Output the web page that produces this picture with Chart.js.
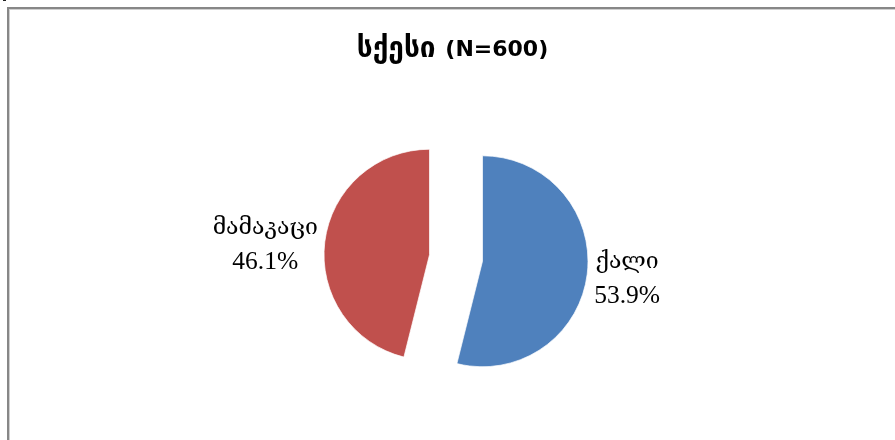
<!DOCTYPE html>
<html>
<head>
<meta charset="utf-8">
<script src="https://cdn.jsdelivr.net/npm/chart.js@4"></script>
<style>
  html, body { margin: 0; padding: 0; background: #fff; overflow: hidden; width: 895px; height: 440px; }
  #frame { position: absolute; left: 7px; top: 7px; width: 1000px; height: 1000px;
           border-left: 2px solid #878787; border-top: 2px solid #878787;
           box-shadow: inset 1px 1px 0 #cfcfcf; }
  #mark { position: absolute; left: 3px; top: 0; width: 3px; height: 1px; background: #222; }
  #wrap { position: absolute; left: 0; top: 0; width: 895px; height: 440px; }
</style>
</head>
<body>
<div id="mark"></div>
<div id="frame"></div>
<div id="wrap"><canvas id="c" width="895" height="440"></canvas></div>
<script>
// ---- data ----
const titleWord = 'სქესი';
const titleNote = '(N=600)';
const categories = ['ქალი', 'მამაკაცი'];
const percentages = [53.9, 46.1];
const sliceColors = ['#4F81BD', '#C0504D'];

// ---- styling ----
const pieRadius = 105.5;
const explodeDist = 26.7;
const titleCenterX = 452.5, titleCenterY = 50;
const titleWordFont = 'bold 28px "DejaVu Sans", sans-serif';
const titleNoteFont = 'bold 22px "DejaVu Sans", sans-serif';
const catFont = '23px "Liberation Serif", "DejaVu Serif", serif';
const pctFont = '25.5px "Liberation Serif", "DejaVu Serif", serif';
const labelLineHeight = 34;

const explodeAndLabel = {
  id: 'explodeAndLabel',
  afterDatasetsUpdate(chart) {
    const meta = chart.getDatasetMeta(0);
    meta.data.forEach(arc => {
      const mid = (arc.startAngle + arc.endAngle) / 2;
      arc.x += Math.cos(mid) * explodeDist;
      arc.y += Math.sin(mid) * explodeDist;
    });
  },
  afterDraw(chart) {
    const ctx = chart.ctx;
    ctx.save();
    ctx.fillStyle = '#000';
    ctx.textBaseline = 'middle';
    // title (two runs)
    ctx.font = titleWordFont;
    const w1 = ctx.measureText(titleWord + ' ').width;
    ctx.font = titleNoteFont;
    const w2 = ctx.measureText(titleNote).width;
    let x0 = titleCenterX - (w1 + w2) / 2;
    ctx.textAlign = 'left';
    ctx.font = titleWordFont;
    ctx.fillText(titleWord, x0, titleCenterY);
    ctx.font = titleNoteFont;
    ctx.fillText(titleNote, x0 + w1, titleCenterY);

    // slice labels
    const meta = chart.getDatasetMeta(0);
    const vals = chart.data.datasets[0].data;
    ctx.textAlign = 'center';
    meta.data.forEach((arc, i) => {
      const mid = (arc.startAngle + arc.endAngle) / 2;
      const dx = Math.cos(mid), dy = Math.sin(mid);
      const D = pieRadius + 7;
      const ax = arc.x + dx * D;
      const ay = arc.y + dy * D + 4;
      const lines = [[chart.data.labels[i], catFont], [vals[i].toFixed(1) + '%', pctFont]];
      const w = Math.max(...lines.map(([t, f]) => { ctx.font = f; return ctx.measureText(t).width; }));
      const cx = dx >= 0 ? ax + w / 2 : ax - w / 2;
      lines.forEach(([t, f], k) => {
        ctx.font = f;
        ctx.fillText(t, cx, ay + (k - (lines.length - 1) / 2) * labelLineHeight);
      });
    });
    ctx.restore();
  }
};

new Chart(document.getElementById('c'), {
  type: 'pie',
  data: {
    labels: categories,
    datasets: [{
      data: percentages,
      backgroundColor: sliceColors,
      borderColor: 'rgba(255,255,255,0.7)',
      borderWidth: 1
    }]
  },
  options: {
    responsive: false,
    animation: false,
    events: [],
    radius: pieRadius,
    layout: { padding: { left: 17, right: 0, top: 80, bottom: 4 } },
    plugins: {
      legend: { display: false },
      tooltip: { enabled: false },
      title: { display: false }
    }
  },
  plugins: [explodeAndLabel]
});
</script>
</body>
</html>
